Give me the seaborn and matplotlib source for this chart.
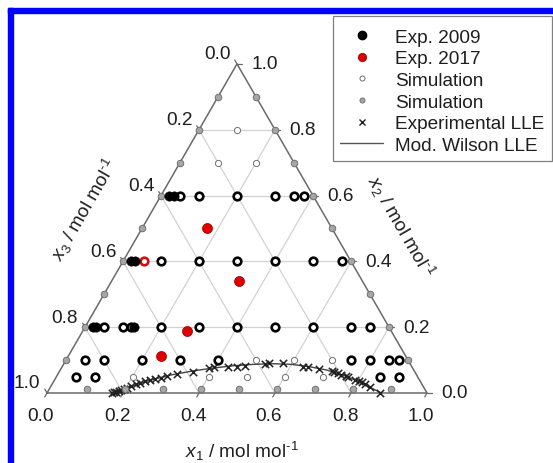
import numpy as np
import pandas as pd
import matplotlib
matplotlib.use("Agg")
import matplotlib.pyplot as plt
import seaborn as sns
from matplotlib.lines import Line2D
from matplotlib.patches import Rectangle

sns.set_theme(style="white")
plt.rcParams["font.family"] = ["Liberation Sans", "DejaVu Sans"]
plt.rcParams["mathtext.fontset"] = "custom"
plt.rcParams["mathtext.rm"] = "Liberation Sans"
plt.rcParams["mathtext.it"] = "Liberation Sans:italic"
FS = 13.7
TXT = "#1e1e1e"

# ---- compositions (x1, x2); x3 = 1 - x1 - x2 ----
# Exp. 2009
exp2009_x1 = [0.022, 0.035, 0.020, 0.032, 0.020, 0.030, 0.130]
exp2009_x2 = [0.600, 0.600, 0.400, 0.400, 0.200, 0.200, 0.200]
# Exp. 2017
exp2017_x1 = [0.170, 0.335, 0.275, 0.245]
exp2017_x2 = [0.500, 0.340, 0.188, 0.112]
# Exp. 2017 point sitting on a tie line
exp2017_ring_x1 = [0.055]
exp2017_ring_x2 = [0.400]
# Tie-line compositions (open rings)
ring_x1 = [0.05, 0.10, 0.20, 0.30, 0.35, 0.375,
           0.10, 0.20, 0.30, 0.40, 0.50, 0.575,
           0.05, 0.10, 0.12, 0.20, 0.30, 0.40, 0.50, 0.60, 0.70, 0.75,
           0.05, 0.10, 0.20, 0.30, 0.40, 0.75, 0.80, 0.85, 0.875,
           0.05, 0.10, 0.85, 0.90]
ring_x2 = [0.60, 0.60, 0.60, 0.60, 0.60, 0.60,
           0.40, 0.40, 0.40, 0.40, 0.40, 0.40,
           0.20, 0.20, 0.20, 0.20, 0.20, 0.20, 0.20, 0.20, 0.20, 0.20,
           0.10, 0.10, 0.10, 0.10, 0.10, 0.10, 0.10, 0.10, 0.10,
           0.05, 0.05, 0.05, 0.05]
# Simulation (open)
sim_open_x1 = [0.10, 0.10, 0.20, 0.50, 0.60, 0.70, 0.20, 0.40, 0.50, 0.60, 0.70]
sim_open_x2 = [0.80, 0.70, 0.70, 0.10, 0.10, 0.10, 0.05, 0.05, 0.05, 0.05, 0.05]
# Simulation (grey) - along the three edges
sim_grey_x1 = ([0.0] * 9
               + [0.9, 0.8, 0.7, 0.6, 0.5, 0.4, 0.3, 0.2, 0.1]
               + [0.1, 0.2, 0.3, 0.4, 0.5, 0.6, 0.7, 0.8, 0.9])
sim_grey_x2 = ([0.1, 0.2, 0.3, 0.4, 0.5, 0.6, 0.7, 0.8, 0.9]
               + [0.1, 0.2, 0.3, 0.4, 0.5, 0.6, 0.7, 0.8, 0.9]
               + [0.012] * 9)
# Experimental LLE
lle_x1 = [0.170, 0.175, 0.180, 0.186, 0.192, 0.198, 0.204, 0.212, 0.220, 0.230,
          0.240, 0.252, 0.263, 0.276, 0.290, 0.312, 0.353, 0.390, 0.400, 0.438,
          0.459, 0.480, 0.530, 0.540, 0.577, 0.634, 0.649, 0.678, 0.715, 0.722,
          0.734, 0.745, 0.760, 0.768, 0.790, 0.803, 0.812, 0.823, 0.841, 0.876]
lle_x2 = [0.000, 0.002, 0.004, 0.006, 0.008, 0.011, 0.014, 0.020, 0.026, 0.030,
          0.035, 0.040, 0.043, 0.047, 0.051, 0.058, 0.065, 0.075, 0.078, 0.078,
          0.080, 0.083, 0.088, 0.090, 0.090, 0.080, 0.078, 0.073, 0.068, 0.064,
          0.061, 0.056, 0.053, 0.049, 0.040, 0.037, 0.032, 0.027, 0.017, 0.000]
# Mod. Wilson LLE
wilson_x1 = [0.168, 0.185, 0.200, 0.225, 0.250, 0.300, 0.350, 0.400, 0.450,
             0.500, 0.550, 0.600, 0.650, 0.700, 0.750, 0.800, 0.840, 0.880]
wilson_x2 = [0.000, 0.007, 0.014, 0.027, 0.038, 0.055, 0.067, 0.076, 0.083,
             0.087, 0.089, 0.087, 0.080, 0.070, 0.055, 0.036, 0.018, 0.000]

tick_vals = [0.0, 0.2, 0.4, 0.6, 0.8, 1.0]
tick_text = ["0.0", "0.2", "0.4", "0.6", "0.8", "1.0"]

H = np.sqrt(3) / 2


def tern(x1, x2):
    x1 = np.asarray(x1, float)
    x2 = np.asarray(x2, float)
    return pd.DataFrame({"X": x1 + x2 / 2, "Y": x2 * H})


fig = plt.figure(figsize=(5.53, 4.64), dpi=100)
ax = fig.add_axes([0, 0, 1, 1])
ax.set_xlim(-47 / 380, 506 / 380)
ax.set_ylim(-70 / 380, 394 / 380)
ax.axis("off")

# grid lines parallel to the three edges
grid_kw = dict(color="#d2d2d2", lw=0.9, zorder=1)
for v in [0.2, 0.4, 0.6, 0.8]:
    for a, b in [((0, v), (1 - v, v)), ((v, 0), (v, 1 - v)), ((1 - v, 0), (0, 1 - v))]:
        seg = tern([a[0], b[0]], [a[1], b[1]])
        ax.plot(seg.X, seg.Y, **grid_kw)

# triangle frame
tri = tern([0, 1, 0, 0], [0, 0, 1, 0])
ax.plot(tri.X, tri.Y, color="#6a6a6a", lw=1.1, zorder=2)

# ticks and tick labels
tl = 0.012
for v, s in zip(tick_vals, tick_text):
    # bottom axis: x1
    p = tern([v], [0])
    ax.plot([p.X[0], p.X[0] - tl * 0.5], [p.Y[0], p.Y[0] - tl * H], color="#6a6a6a", lw=0.9)
    ax.annotate(s, (p.X[0], p.Y[0]), xytext=(-6, -23), textcoords="offset pixels",
                ha="center", va="center", fontsize=FS, color=TXT)
    # right axis: x2
    p = tern([1 - v], [v])
    ax.plot([p.X[0], p.X[0] + tl], [p.Y[0], p.Y[0]], color="#6a6a6a", lw=0.9)
    ax.annotate(s, (p.X[0], p.Y[0]), xytext=(14, 0), textcoords="offset pixels",
                ha="left", va="center", fontsize=FS, color=TXT)
    # left axis: x3
    p = tern([0], [1 - v])
    ax.plot([p.X[0], p.X[0] - tl * 0.5], [p.Y[0], p.Y[0] + tl * H], color="#6a6a6a", lw=0.9)
    ax.annotate(s, (p.X[0], p.Y[0]), xytext=(-20, 10), textcoords="offset pixels",
                ha="center", va="center", fontsize=FS, color=TXT)

unit = r" / mol mol$^{\text{-1}}$"
ax.text((241.6 - 47) / 380, (394 - 451.7) / 380, r"$x_1$" + unit, ha="center", va="center",
        fontsize=FS, color=TXT)
ax.text((84.5 - 47) / 380, (394 - 210) / 380, r"$x_3$" + unit, ha="center", va="center",
        rotation=60, fontsize=FS, color=TXT)
ax.text((400 - 47) / 380, (394 - 227) / 380, r"$x_2$" + unit, ha="center", va="center",
        rotation=-60, fontsize=FS, color=TXT)

# data
wil = tern(wilson_x1, wilson_x2)
sns.lineplot(data=wil, x="X", y="Y", sort=False, estimator=None, color="#444444",
             lw=1.0, ax=ax, zorder=3)
lle = tern(lle_x1, lle_x2)
sns.scatterplot(data=lle, x="X", y="Y", marker="x", s=28, color="#222222",
                linewidth=1.1, ax=ax, zorder=4)
grey = tern(sim_grey_x1, sim_grey_x2)
sns.scatterplot(data=grey, x="X", y="Y", marker="o", s=22, color="#a6a6a6",
                edgecolor="#707070", linewidth=0.7, ax=ax, zorder=5)
sop = tern(sim_open_x1, sim_open_x2)
sns.scatterplot(data=sop, x="X", y="Y", marker="o", s=20, color="white",
                edgecolor="#707070", linewidth=0.7, ax=ax, zorder=5)
rings = tern(ring_x1, ring_x2)
sns.scatterplot(data=rings, x="X", y="Y", marker="o", s=30, color="white",
                edgecolor="black", linewidth=1.9, ax=ax, zorder=6)
rr = tern(exp2017_ring_x1, exp2017_ring_x2)
sns.scatterplot(data=rr, x="X", y="Y", marker="o", s=30, color="white",
                edgecolor="#d01010", linewidth=1.9, ax=ax, zorder=7)
e09 = tern(exp2009_x1, exp2009_x2)
sns.scatterplot(data=e09, x="X", y="Y", marker="o", s=46, color="black",
                edgecolor="black", linewidth=0.3, ax=ax, zorder=8)
e17 = tern(exp2017_x1, exp2017_x2)
sns.scatterplot(data=e17, x="X", y="Y", marker="o", s=52, color="#e00000",
                edgecolor="#8a0000", linewidth=0.5, ax=ax, zorder=8)

handles = [
    Line2D([], [], ls="none", marker="o", ms=6, mfc="black", mec="black"),
    Line2D([], [], ls="none", marker="o", ms=6, mfc="#e00000", mec="#8a0000", mew=0.5),
    Line2D([], [], ls="none", marker="o", ms=3.6, mfc="white", mec="#707070", mew=0.7),
    Line2D([], [], ls="none", marker="o", ms=3.6, mfc="#a6a6a6", mec="#707070", mew=0.7),
    Line2D([], [], ls="none", marker="x", ms=4.5, mec="#222222", mew=1.0),
    Line2D([], [], color="#555555", lw=1.0),
]
labels = ["Exp. 2009", "Exp. 2017", "Simulation", "Simulation",
          "Experimental LLE", "Mod. Wilson LLE"]
leg = ax.legend(handles, labels, loc="upper left", bbox_to_anchor=(330 / 553, 1 - 19 / 464),
                bbox_transform=fig.transFigure, borderaxespad=0, fontsize=FS,
                handlelength=2.26, handletextpad=0.62, labelspacing=0.23, borderpad=0.54,
                frameon=False)
for t in leg.get_texts():
    t.set_color(TXT)

# legend frame
fig.patches.append(Rectangle((333 / 553, 1 - 162 / 464), (552 - 333) / 553, 145 / 464,
                             transform=fig.transFigure, fill=False, edgecolor="#808080",
                             lw=0.9, zorder=9))

# blue frame strips
fig.patches.append(Rectangle((8 / 553, 1 - 14.3 / 464), 1, 5.3 / 464,
                             transform=fig.transFigure, color="#0000ff", zorder=10))
fig.patches.append(Rectangle((8 / 553, 0), 5.3 / 553, 1 - 9 / 464,
                             transform=fig.transFigure, color="#0000ff", zorder=10))

fig.savefig("out.png", dpi=100)
